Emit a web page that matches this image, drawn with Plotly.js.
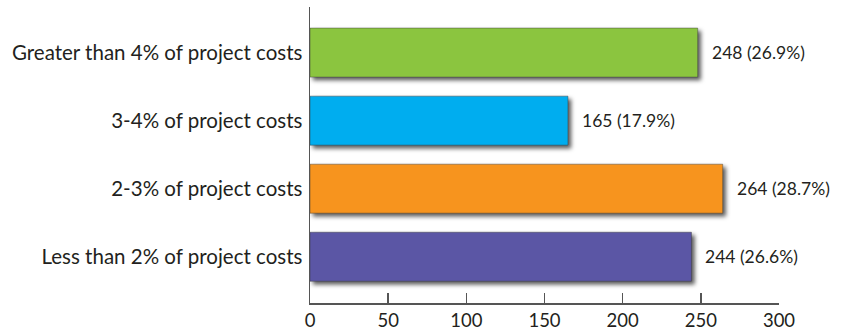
<!DOCTYPE html>
<html>
<head>
<meta charset="utf-8">
<script src="https://cdn.plot.ly/plotly-3.0.1.min.js"></script>
<style>
  html, body { margin: 0; padding: 0; background: #fff; }
  #chart { width: 846px; height: 333px; }
  .bars .point path { filter: drop-shadow(3px 3px 2px rgba(0,0,0,0.65)); }
</style>
</head>
<body>
<div id="chart"></div>
<script>
// Budget share categories, listed bottom to top
const categories = [
  'Less than 2% of project costs',
  '2-3% of project costs',
  '3-4% of project costs',
  'Greater than 4% of project costs'
];
const counts = [244, 264, 165, 248];
const percents = [26.6, 28.7, 17.9, 26.9];
const barColors = ['#5B56A5', '#F7941E', '#00ADEF', '#8BC53F'];
const xTicks = [0, 50, 100, 150, 200, 250, 300];

const FONT = 'Lato, "Open Sans", sans-serif';

const trace = {
  type: 'bar',
  orientation: 'h',
  y: categories,
  x: counts,
  marker: { color: barColors, line: { color: 'rgba(60,60,60,0.45)', width: 1 } },
  width: 0.72,
  hoverinfo: 'skip',
  cliponaxis: false
};

// Value labels placed just past each bar end
const annotations = categories.map((c, i) => ({
  x: counts[i],
  y: c,
  xref: 'x',
  yref: 'y',
  text: counts[i] + ' (' + percents[i].toFixed(1) + '%)',
  showarrow: false,
  xanchor: 'left',
  yanchor: 'middle',
  xshift: 12,
  font: { family: FONT, size: 17.5, color: '#231F20' }
}));

const layout = {
  width: 846,
  height: 333,
  margin: { l: 310, r: 67, t: 7, b: 30 },
  paper_bgcolor: '#fff',
  plot_bgcolor: '#fff',
  showlegend: false,
  font: { family: FONT, color: '#231F20' },
  xaxis: {
    range: [0, 300],
    tickvals: xTicks,
    ticktext: xTicks.map(String),
    ticks: 'inside',
    ticklen: 10,
    tickwidth: 1.5,
    tickcolor: '#555',
    showline: true,
    linecolor: '#555',
    linewidth: 1.5,
    showgrid: false,
    zeroline: false,
    fixedrange: true,
    tickfont: { family: FONT, size: 18.5, color: '#231F20' }
  },
  yaxis: {
    type: 'category',
    range: [-0.68, 3.67],
    ticks: '',
    showline: true,
    linecolor: '#555',
    linewidth: 1.5,
    showgrid: false,
    zeroline: false,
    fixedrange: true,
    ticklabelstandoff: 2,
    tickfont: { family: FONT, size: 20.5, color: '#231F20' }
  },
  annotations: annotations
};

Plotly.newPlot('chart', [trace], layout, { displayModeBar: false, staticPlot: true });
</script>
</body>
</html>
